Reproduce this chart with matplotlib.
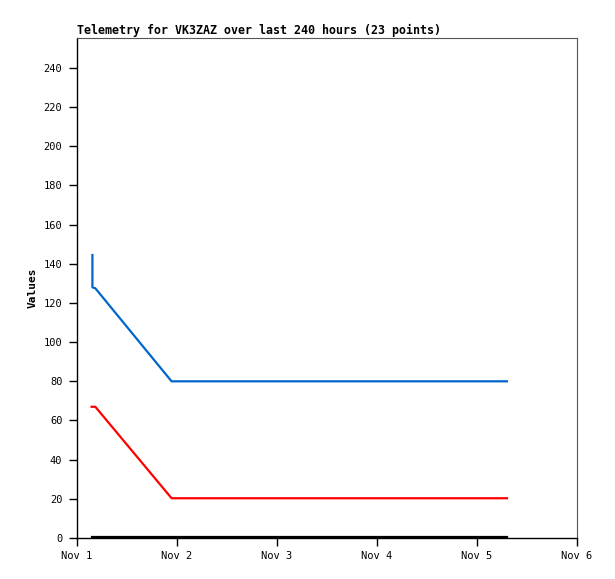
import numpy as np
import matplotlib
matplotlib.use('Agg')
import matplotlib.pyplot as plt
import matplotlib.dates as mdates
from datetime import datetime, timedelta

# hours after Nov 1 00:00
hrs_blue = [3.7, 3.7, 4.4, 22.7, 35.0, 50.0, 65.0, 80.0, 95.0, 103.2]
val_blue = [144.5, 128.0, 127.5, 80.0, 80.0, 80.0, 80.0, 80.0, 80.0, 80.0]

hrs_red = [3.5, 4.4, 22.7, 35.0, 50.0, 65.0, 80.0, 95.0, 103.2]
val_red = [67.0, 67.0, 20.3, 20.3, 20.3, 20.3, 20.3, 20.3, 20.3]

hrs_black = [3.5, 22.7, 50.0, 80.0, 103.2]
val_black = [0.4, 0.4, 0.4, 0.4, 0.4]

t0 = datetime(2023, 11, 1)
def to_dt(h):
    return [t0 + timedelta(hours=x) for x in h]

plt.rcParams['font.family'] = ['DejaVu Sans Mono']

fig = plt.figure(figsize=(6.15, 5.79), dpi=100)
ax = fig.add_axes([77/615, 1-538/579, 500/615, 500/579])

ax.plot(to_dt(hrs_blue), val_blue, color='#0066cc', lw=1.6)
ax.plot(to_dt(hrs_red), val_red, color='#ff0000', lw=1.6)
ax.plot(to_dt(hrs_black), val_black, color='black', lw=1.6)

ax.set_xlim(t0, t0 + timedelta(days=5))
ax.set_ylim(0, 255.3)
ax.set_yticks(np.arange(0, 241, 20))
ax.xaxis.set_major_locator(mdates.DayLocator())
ax.xaxis.set_major_formatter(mdates.DateFormatter('Nov %-d'))

ax.tick_params(direction='out', length=5.5, width=1, labelsize=7.5, top=False, right=False, pad=5)
ax.tick_params(axis='x', pad=4)
for s in ['top', 'right']:
    ax.spines[s].set_color('#555555')
    ax.spines[s].set_linewidth(0.8)
for s in ['left', 'bottom']:
    ax.spines[s].set_linewidth(1.0)

ax.set_ylabel('Values', fontsize=8, fontweight='bold', labelpad=4)
ax.set_title('Telemetry for VK3ZAZ over last 240 hours (23 points)', loc='left',
             fontsize=8.4, fontweight='bold', pad=3)

fig.savefig('out.png', dpi=100)
